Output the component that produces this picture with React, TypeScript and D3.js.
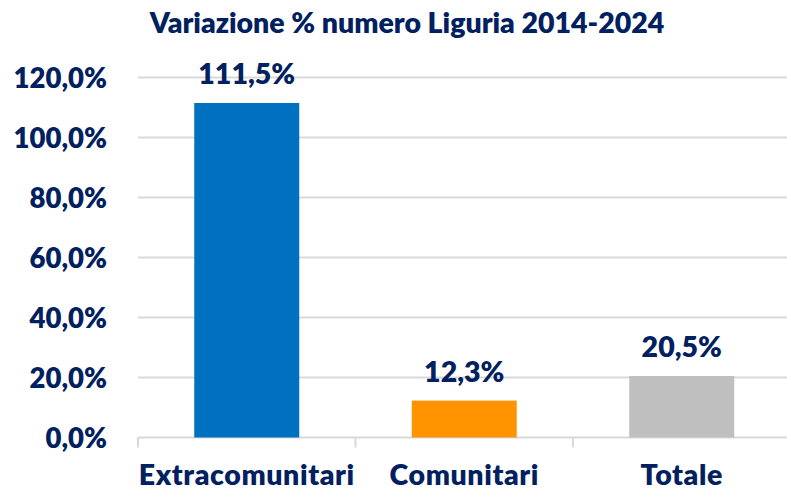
import React from "react";
import * as d3 from "d3";

const categories = ["Extracomunitari", "Comunitari", "Totale"];
const values = [111.5, 12.3, 20.5];
const barColors = ["#0070C0", "#FF9400", "#BFBFBF"];
const yTicks = [0, 20, 40, 60, 80, 100, 120];
const title = "Variazione % numero Liguria 2014-2024";

const W = 787;
const H = 490;
const FONT = "Lato, 'Open Sans', sans-serif";
const NAVY = "#002060";
const WEIGHT = 800;

const fmt = (v: number) => v.toFixed(1).replace(".", ",") + "%";

export default function App() {
  const x = d3.scaleBand<string>().domain(categories).range([138, 790.5]).paddingInner(0).paddingOuter(0);
  const y = d3.scaleLinear().domain([0, 120]).range([437.5, 77.5]);
  const barW = 105;
  const bw = x.bandwidth();
  return (
    <svg width={W} height={H} style={{ position: "absolute", left: 0, top: 0 }} fontFamily={FONT}>
      <rect width={W} height={H} fill="#fff" />
      <text x={407} y={33} textAnchor="middle" fontSize={28.5} fontWeight={WEIGHT} fill={NAVY}>
        {title}
      </text>
      {yTicks.map((t) => (
        <g key={t}>
          <line x1={138} x2={W} y1={y(t)} y2={y(t)} stroke="#D9D9D9" strokeWidth={2} />
          <text x={107} y={y(t) + 10} textAnchor="end" fontSize={27.5} fontWeight={WEIGHT} fill={NAVY}>
            {fmt(t)}
          </text>
        </g>
      ))}
      {[0, 1, 2, 3].map((i) => {
        const xx = 138 + i * bw;
        return <line key={i} x1={xx} x2={xx} y1={y(0)} y2={y(0) + 10} stroke="#D9D9D9" strokeWidth={2} />;
      })}
      {categories.map((c, i) => {
        const cx = (x(c) as number) + bw / 2;
        return (
          <g key={c}>
            <rect x={cx - barW / 2} y={y(values[i])} width={barW} height={y(0) - y(values[i])} fill={barColors[i]} />
            <text x={cx} y={y(values[i]) - 19} textAnchor="middle" fontSize={28.5} fontWeight={WEIGHT} fill={NAVY}>
              {fmt(values[i])}
            </text>
            <text x={cx} y={485} textAnchor="middle" fontSize={28.5} fontWeight={WEIGHT} fill={NAVY} letterSpacing={0.6}>
              {c}
            </text>
          </g>
        );
      })}
    </svg>
  );
}
